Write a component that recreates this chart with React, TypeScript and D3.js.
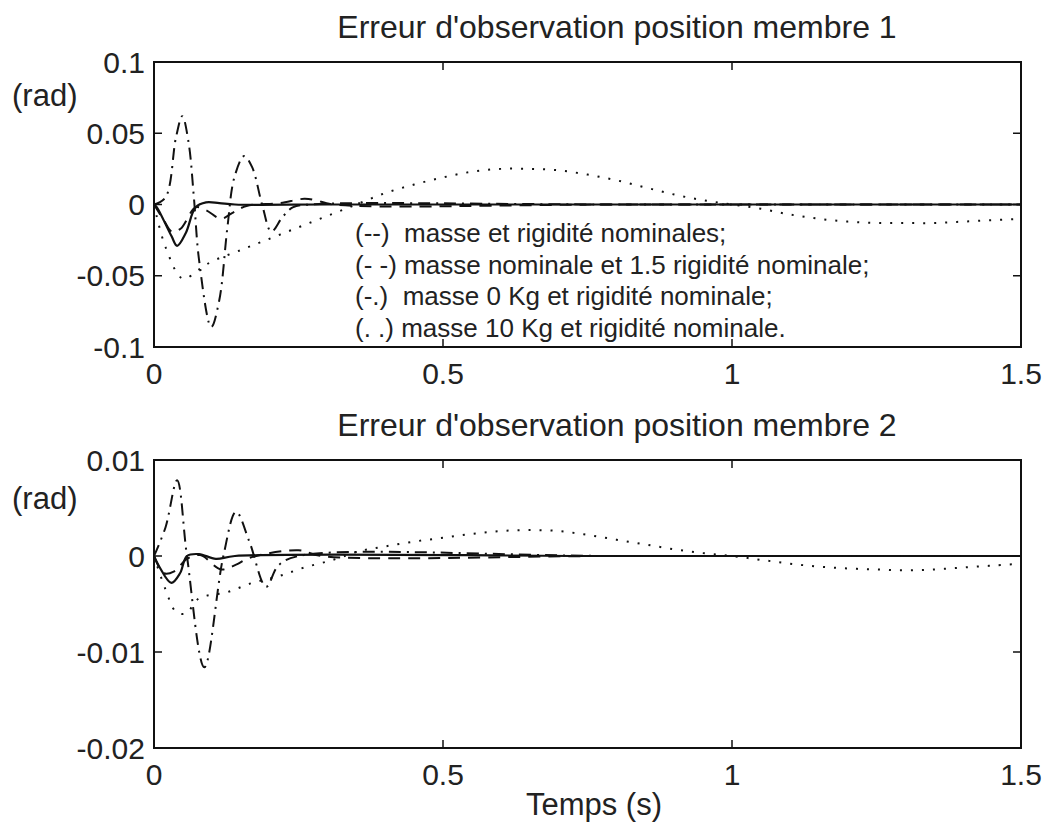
import { useEffect, useRef } from 'react';
import * as d3 from 'd3';

// [temps (s), erreur (rad)]
const top_nominal: [number, number][] = [
  [0, 0], [0.005, -0.002], [0.03, -0.022], [0.04, -0.029], [0.055, -0.02], [0.072, -0.002],
  [0.09, 0.0015], [0.113, 0.001], [0.14, 0], [0.3, 0], [0.8, 0], [1.5, 0],
];
const top_rigid: [number, number][] = [
  [0, 0], [0.017, -0.011], [0.031, -0.019], [0.046, -0.017], [0.072, -0.002], [0.09, -0.004],
  [0.116, -0.01], [0.135, -0.006], [0.16, -0.001], [0.217, 0.001], [0.26, 0.004], [0.28, 0.003],
  [0.31, 0], [0.8, 0], [1.5, 0],
];
const top_m0: [number, number][] = [
  [0, 0], [0.02, 0.005], [0.038, 0.047], [0.049, 0.062], [0.06, 0.043], [0.069, 0.005],
  [0.078, -0.039], [0.099, -0.086], [0.113, -0.067], [0.127, -0.016], [0.139, 0.019],
  [0.156, 0.034], [0.17, 0.026], [0.187, 0], [0.203, -0.019], [0.222, -0.009], [0.24, -0.002],
  [0.27, 0], [0.8, 0], [1.5, 0],
];
const top_m10: [number, number][] = [
  [0, 0], [0.02, -0.03], [0.05, -0.052], [0.08, -0.045], [0.1, -0.04], [0.15, -0.032],
  [0.2, -0.024], [0.25, -0.016], [0.3, -0.008], [0.35, 0], [0.4, 0.008], [0.45, 0.014],
  [0.5, 0.019], [0.55, 0.023], [0.6, 0.025], [0.65, 0.025], [0.7, 0.024], [0.75, 0.021],
  [0.8, 0.017], [0.85, 0.012], [0.9, 0.007], [0.95, 0.003], [1.0, 0], [1.05, -0.003],
  [1.1, -0.007], [1.15, -0.01], [1.2, -0.012], [1.25, -0.013], [1.3, -0.013], [1.35, -0.013],
  [1.4, -0.012], [1.45, -0.011], [1.5, -0.01],
];

const bot_nominal: [number, number][] = [
  [0, 0], [0.01, -0.0012], [0.03, -0.0028], [0.045, -0.0018], [0.057, 0], [0.078, 0.0002],
  [0.107, -0.0003], [0.14, 0], [0.8, 0], [1.5, 0],
];
const bot_rigid: [number, number][] = [
  [0, 0], [0.017, -0.0018], [0.035, -0.0016], [0.057, -0.0003], [0.08, 0.0001],
  [0.116, -0.0014], [0.142, -0.0009], [0.165, -0.0002], [0.25, 0.0006], [0.29, 0],
  [0.8, 0], [1.5, 0],
];
const bot_m0: [number, number][] = [
  [0, 0], [0.02, 0.003], [0.04, 0.0079], [0.057, 0], [0.087, -0.0116], [0.12, 0],
  [0.142, 0.0046], [0.165, 0.0015], [0.194, -0.0032], [0.215, -0.001], [0.25, 0], [0.8, 0], [1.5, 0],
];
const bot_m10: [number, number][] = [
  [0, 0], [0.02, -0.0035], [0.038, -0.0058], [0.055, -0.006], [0.078, -0.0044],
  [0.125, -0.0038], [0.17, -0.0028], [0.216, -0.0021], [0.26, -0.0012], [0.31, -0.0004],
  [0.355, 0.0005], [0.4, 0.001], [0.45, 0.0015], [0.5, 0.0019], [0.55, 0.0023], [0.6, 0.0026],
  [0.65, 0.0027], [0.7, 0.0026], [0.75, 0.0022], [0.8, 0.0017], [0.85, 0.0012], [0.9, 0.0007],
  [0.95, 0.0003], [1.0, 0], [1.05, -0.0004], [1.1, -0.0008], [1.15, -0.0011], [1.2, -0.0013],
  [1.25, -0.0014], [1.3, -0.0015], [1.35, -0.0014], [1.4, -0.0012], [1.45, -0.001], [1.5, -0.0008],
];

const xTicks = [0, 0.5, 1, 1.5];
const topTicks = [-0.1, -0.05, 0, 0.05, 0.1];
const botTicks = [-0.02, -0.01, 0, 0.01];

const legendLabels = [
  '(--)  masse et rigidité nominales;',
  '(- -) masse nominale et 1.5 rigidité nominale;',
  '(-.)  masse 0 Kg et rigidité nominale;',
  '(. .) masse 10 Kg et rigidité nominale.',
];

const dashes = [null, '12,8', '12,6,2,6', '2,9'];
const FONT = 'Liberation Sans, Arial, sans-serif';

export default function App() {
  const ref = useRef<SVGSVGElement>(null);

  useEffect(() => {
    const svg = d3.select(ref.current);
    svg.selectAll('*').remove();
    const x = d3.scaleLinear().domain([0, 1.5]).range([154, 1021]);

    const panel = (
      y0: number, y1: number, domain: [number, number], ticks: number[],
      series: [number, number][][], title: string, radY: number,
    ) => {
      const y = d3.scaleLinear().domain(domain).range([y1, y0]);
      const g = svg.append('g');
      const line = d3.line<[number, number]>().x(d => x(d[0])).y(d => y(d[1])).curve(d3.curveCatmullRom);

      series.forEach((s, i) => {
        g.append('path').attr('d', line(s)).attr('fill', 'none').attr('stroke', '#111')
          .attr('stroke-width', i === 0 ? 2.2 : 2)
          .attr('stroke-dasharray', dashes[i]);
      });

      g.append('rect').attr('x', x(0)).attr('y', y0).attr('width', x(1.5) - x(0)).attr('height', y1 - y0)
        .attr('fill', 'none').attr('stroke', '#111').attr('stroke-width', 2);

      xTicks.forEach(t => {
        g.append('line').attr('x1', x(t)).attr('x2', x(t)).attr('y1', y1).attr('y2', y1 - 8).attr('stroke', '#111').attr('stroke-width', 1.5);
        g.append('line').attr('x1', x(t)).attr('x2', x(t)).attr('y1', y0).attr('y2', y0 + 8).attr('stroke', '#111').attr('stroke-width', 1.5);
        g.append('text').attr('x', x(t)).attr('y', y1 + 37).attr('text-anchor', 'middle')
          .attr('font-size', 30).attr('font-family', FONT).attr('fill', '#222').text(String(t));
      });
      ticks.forEach(t => {
        g.append('line').attr('x1', x(0)).attr('x2', x(0) + 8).attr('y1', y(t)).attr('y2', y(t)).attr('stroke', '#111').attr('stroke-width', 1.5);
        g.append('line').attr('x1', x(1.5)).attr('x2', x(1.5) - 8).attr('y1', y(t)).attr('y2', y(t)).attr('stroke', '#111').attr('stroke-width', 1.5);
        g.append('text').attr('x', 145).attr('y', y(t) + 10.5).attr('text-anchor', 'end')
          .attr('font-size', 30).attr('font-family', FONT).attr('fill', '#222').text(String(t));
      });

      g.append('text').attr('x', 617).attr('y', y0 - 24).attr('text-anchor', 'middle')
        .attr('font-size', 32).attr('font-family', FONT).attr('fill', '#222').text(title);
      g.append('text').attr('x', 12).attr('y', radY)
        .attr('font-size', 31).attr('font-family', FONT).attr('fill', '#222').text('(rad)');
      return g;
    };

    panel(62, 347, [-0.1, 0.1], topTicks, [top_nominal, top_rigid, top_m0, top_m10],
      "Erreur d'observation position membre 1", 106);
    panel(460, 748, [-0.02, 0.01], botTicks, [bot_nominal, bot_rigid, bot_m0, bot_m10],
      "Erreur d'observation position membre 2", 509);

    legendLabels.forEach((l, i) => {
      svg.append('text').attr('x', 355).attr('y', 242 + i * 31.5)
        .attr('font-size', 26).attr('font-family', FONT).attr('fill', '#222')
        .style('white-space', 'pre').text(l);
    });

    svg.append('text').attr('x', 594).attr('y', 815).attr('text-anchor', 'middle')
      .attr('font-size', 31).attr('font-family', FONT).attr('fill', '#222').text('Temps (s)');
  }, []);

  return (
    <svg ref={ref} width={1049} height={829}
      style={{ position: 'absolute', left: 0, top: 0, background: '#fff' }} />
  );
}
